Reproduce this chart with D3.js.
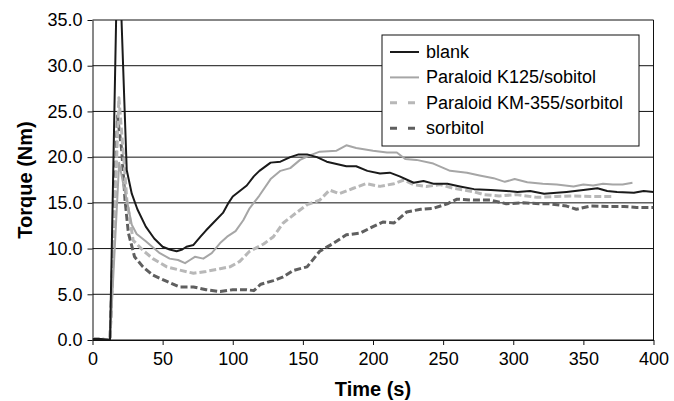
<!DOCTYPE html>
<html>
<head>
<meta charset="utf-8">
<script src="https://cdn.jsdelivr.net/npm/d3@7"></script>
<style>
    body { margin: 0; background: #fff; }
    text { font-family: "Liberation Sans", Arial, sans-serif; }
</style>
</head>
<body>
<script>
// Data: [time (s), torque (Nm)]
const blank = [
    [0, 0.1], [6, 0.1], [12.5, 0], [18.2, 46], [24.4, 18.6], [28, 16.0], [32, 14.3], [38, 12.4],
    [44, 11.1], [50, 10.2], [55, 9.9], [60, 9.7], [64, 9.9], [67, 10.2], [72, 10.4], [77, 11.3],
    [81, 12.0], [86, 12.8], [93, 13.9], [97, 15.0], [100, 15.7], [105, 16.3], [110, 16.9],
    [115, 17.9], [119, 18.5], [127, 19.4], [134, 19.5], [141, 20.0], [147, 20.3], [153, 20.3],
    [160, 20.0], [167, 19.5], [174, 19.25], [181, 19.0], [188, 19.0], [196, 18.5], [205, 18.2],
    [212, 18.3], [219, 17.9], [229, 17.2], [236, 17.4], [243, 17.1], [253, 17.1], [262, 16.8],
    [272, 16.5], [284, 16.4], [295, 16.3], [303, 16.2], [312, 16.3], [322, 16.0], [331, 16.1],
    [338, 16.2], [350, 16.4], [360, 16.6], [367, 16.3], [374, 16.2], [386, 16.1], [393, 16.3],
    [400, 16.2]
]
const k125 = [
    [0, 0.1], [6, 0.1], [12.5, 0], [19, 19.4], [22, 17.0], [25, 14.9], [28, 12.6], [31.5, 11.6],
    [38, 10.8], [48, 9.5], [55, 8.9], [61, 8.75], [66, 8.4], [69.5, 8.75], [73, 9.1], [79, 8.9],
    [85, 9.5], [91, 10.6], [96, 11.3], [102, 11.9], [107.5, 13.1], [112, 14.4], [119, 15.8],
    [127, 17.6], [134, 18.5], [141, 18.8], [148, 19.7], [155, 20.2], [162, 20.6], [174, 20.7],
    [181, 21.3], [188, 21.0], [200, 20.7], [210, 20.5], [217, 20.5], [223, 19.8], [231, 19.7],
    [243, 19.3], [255, 18.5], [267, 18.3], [276, 18.0], [286, 17.7], [294, 17.3], [301, 17.6],
    [310, 17.25], [321, 17.1], [331, 17.0], [343, 16.8], [350, 17.0], [357, 16.9], [364, 17.1],
    [371, 17.0], [378, 17.0], [385, 17.2]
]
const km355 = [
    [0, 0.1], [6, 0.1], [12.5, 0], [18.8, 26.5], [22, 20.4], [24.5, 15.3], [29, 10.9], [36, 9.8],
    [43, 8.9], [53, 8.0], [62, 7.65], [72, 7.3], [81, 7.5], [91, 7.8], [98, 8.0], [105, 8.6],
    [112, 9.7], [122, 10.5], [129, 11.3], [136, 12.8], [146, 14.0], [153, 14.8], [162, 15.3],
    [169, 16.4], [176, 16.0], [186, 16.6], [195, 17.1], [205, 16.8], [215, 17.1], [222, 17.5],
    [229, 17.0], [238, 16.8], [248, 17.0], [257, 16.6], [265, 16.4], [272, 16.2], [279, 15.9],
    [290, 15.75], [302, 15.9], [317, 15.6], [331, 15.7], [343, 15.75], [355, 15.7], [372, 15.7]
]
const sorbitol = [
    [0, 0.1], [6, 0.1], [12.5, 0], [17.8, 24.5], [20.8, 20.8], [23.2, 15.3], [25.6, 11.7],
    [30, 9.1], [36, 8.0], [43, 7.1], [53, 6.4], [62, 5.8], [72, 5.8], [81, 5.5], [91, 5.3],
    [100, 5.5], [110, 5.5], [115, 5.4], [120, 6.1], [129, 6.5], [136, 6.9], [143, 7.6], [153, 8.0],
    [162, 9.7], [172, 10.6], [181, 11.5], [191, 11.7], [200, 12.4], [207, 12.9], [215, 12.8],
    [224, 14.0], [234, 14.3], [243, 14.4], [253, 14.9], [260, 15.4], [272, 15.3], [284, 15.3],
    [295, 14.9], [307, 15.0], [319, 14.9], [326, 14.9], [338, 14.65], [345, 14.3], [355, 14.65],
    [367, 14.6], [379, 14.6], [388, 14.5], [400, 14.5]
]
const seriesNames = ["blank", "Paraloid K125/sobitol", "Paraloid KM-355/sorbitol", "sorbitol"]
const xTicks = [0, 50, 100, 150, 200, 250, 300, 350, 400]
const yTicks = [0, 5, 10, 15, 20, 25, 30, 35]

let main = () => {
    const width = 674
    const height = 401
    const margin = { left: 92.5, right: 20.5, top: 20, bottom: 61 }

    let svg = d3.select("body")
        .append("svg")
        .attr("width", width)
        .attr("height", height)

    let xScale = d3.scaleLinear()
        .domain([0, 400])
        .range([margin.left, width - margin.right])
    let yScale = d3.scaleLinear()
        .domain([0, 35])
        .range([height - margin.bottom, margin.top])

    // Gridlines
    svg.selectAll(".grid")
        .data(yTicks).enter().append("line")
        .attr("class", "grid")
        .attr("x1", xScale(0))
        .attr("x2", xScale(400))
        .attr("y1", d => yScale(d))
        .attr("y2", d => yScale(d))
        .attr("stroke", "#111")
        .attr("stroke-width", 1)

    // Right border of plot area
    svg.append("line")
        .attr("x1", xScale(400)).attr("x2", xScale(400))
        .attr("y1", yScale(35)).attr("y2", yScale(0))
        .attr("stroke", "#111")

    // Axes
    let xAxis = svg.append("g")
        .attr("transform", `translate(0, ${yScale(0)})`)
        .call(d3.axisBottom(xScale).tickValues(xTicks).tickSize(5).tickPadding(7).tickSizeOuter(0))
    let yAxis = svg.append("g")
        .attr("transform", `translate(${xScale(0)}, 0)`)
        .call(d3.axisLeft(yScale).tickValues(yTicks).tickFormat(d3.format(".1f")).tickSize(5).tickPadding(5).tickSizeOuter(0))
    for (let ax of [xAxis, yAxis]) {
        ax.selectAll("path, line").attr("stroke", "#111").attr("stroke-width", 1)
        ax.selectAll("text")
            .style("font-size", "18px")
            .style("font-family", "Liberation Sans, Arial, sans-serif")
            .attr("fill", "#000")
    }

    // Clip lines to plot area
    svg.append("clipPath").attr("id", "plotClip")
        .append("rect")
        .attr("x", xScale(0)).attr("y", yScale(35))
        .attr("width", xScale(400) - xScale(0))
        .attr("height", yScale(0) - yScale(35))

    const styles = [
        { data: blank, stroke: "#1a1a1a", width: 2, dash: null },
        { data: k125, stroke: "#a6a6a6", width: 2, dash: null },
        { data: km355, stroke: "#b8b8b8", width: 3, dash: "7,3" },
        { data: sorbitol, stroke: "#5f5f5f", width: 3, dash: "7,3" }
    ]
    let line = d3.line()
        .x(d => xScale(d[0]))
        .y(d => yScale(d[1]))

    // Draw back to front: sorbitol first, blank last
    let g = svg.append("g").attr("clip-path", "url(#plotClip)")
    styles.slice().reverse().forEach(s => {
        g.append("path")
            .datum(s.data)
            .attr("d", line)
            .attr("fill", "none")
            .attr("stroke", s.stroke)
            .attr("stroke-width", s.width)
            .attr("stroke-dasharray", s.dash)
            .attr("stroke-linejoin", "round")
    })

    // Axis titles
    svg.append("text")
        .attr("x", (xScale(0) + xScale(400)) / 2)
        .attr("y", 396)
        .attr("text-anchor", "middle")
        .style("font-size", "20px")
        .style("font-weight", "bold")
        .text("Time (s)")
    svg.append("text")
        .attr("transform", `translate(32, ${(yScale(0) + yScale(35)) / 2}) rotate(-90)`)
        .attr("text-anchor", "middle")
        .style("font-size", "20px")
        .style("font-weight", "bold")
        .text("Torque (Nm)")

    // Legend
    let legend = svg.append("g")
    legend.append("rect")
        .attr("x", 382).attr("y", 35)
        .attr("width", 257).attr("height", 111)
        .attr("fill", "#fff")
        .attr("stroke", "#111")
    styles.forEach((s, i) => {
        let y = 52 + i * 25.4
        legend.append("line")
            .attr("x1", 390).attr("x2", 419)
            .attr("y1", y).attr("y2", y)
            .attr("stroke", s.stroke)
            .attr("stroke-width", s.width)
            .attr("stroke-dasharray", s.dash ? "7,11" : null)
        legend.append("text")
            .attr("x", 426).attr("y", y)
            .attr("dominant-baseline", "central")
            .style("font-size", "18px")
            .text(seriesNames[i])
    })
}

main()
</script>
</body>
</html>
